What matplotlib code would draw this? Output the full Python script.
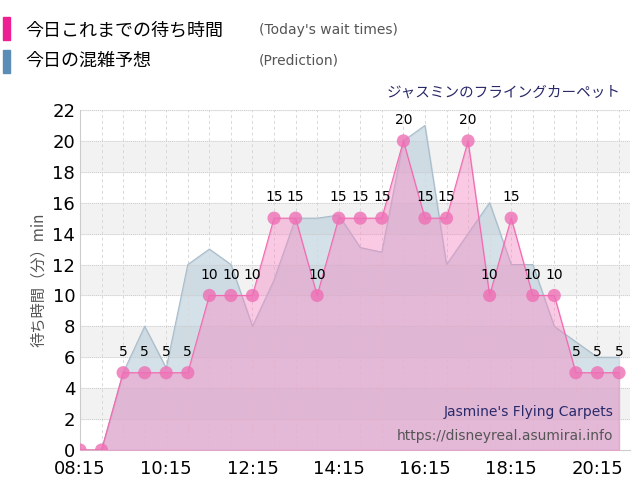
import matplotlib
matplotlib.use("Agg")
import matplotlib.pyplot as plt
import numpy as np

plt.rcParams["font.family"] = ["DejaVu Sans", "Noto Sans CJK JP"]

# 30分ごとの時刻
times = ["08:15", "08:45", "09:15", "09:45", "10:15", "10:45", "11:15", "11:45",
         "12:15", "12:45", "13:15", "13:45", "14:15", "14:45", "15:15", "15:45",
         "16:15", "16:45", "17:15", "17:45", "18:15", "18:45", "19:15", "19:45",
         "20:15", "20:45"]
wait = [0, 0, 5, 5, 5, 5, 10, 10, 10, 15, 15, 10, 15, 15, 15, 20,
        15, 15, 20, 10, 15, 10, 10, 5, 5, 5]
pred = [0, 0, 5, 8, 5.3, 12, 13, 12, 8, 11, 15, 15, 15.2, 13.1, 12.8, 20,
        21, 12, 14, 16, 12, 12, 8, 7, 6, 6]
tick_labels = ["08:15", "10:15", "12:15", "14:15", "16:15", "18:15", "20:15"]

x = np.arange(len(times))
fig = plt.figure(figsize=(6.4, 5.0), dpi=100)
ax = fig.add_axes([0.125, 0.1, 0.859, 0.68])

# 横縞
for k in range(0, 22, 4):
    ax.axhspan(k + 2, k + 4, color="#f2f2f2", zorder=0)

ax.fill_between(x, pred, color="#b9cdd9", alpha=0.6, zorder=1)
ax.plot(x, pred, color="#a9bccb", lw=0.8, zorder=2)
ax.fill_between(x, wait, color="#f58ac4", alpha=0.45, zorder=3)
ax.plot(x, wait, color="#f06ab0", lw=0.8, zorder=4)
ax.scatter(x, wait, s=90, color="#ee6fb5", alpha=0.8, zorder=5, edgecolors="none")
for xi, v in zip(x, wait):
    if v > 0:
        ax.text(xi, v + 0.9, str(v), ha="center", va="bottom", fontsize=10, zorder=6)

ax.set_xlim(0, 25.5)
ax.set_ylim(0, 22)
ax.set_yticks(range(0, 23, 2))
ax.set_xticks([times.index(t) for t in tick_labels])
ax.set_xticklabels(tick_labels)
ax.set_xticks(x, minor=True)
ax.tick_params(labelsize=13, length=0, which="both")
ax.tick_params(axis="x", pad=7)
ax.grid(True, which="both", axis="x", color="#d8d8d8", ls=(0, (3, 3)), lw=0.7)
ax.grid(True, axis="y", color="#cccccc", ls=(0, (1, 1)), lw=0.7)
for s in ["top", "right"]:
    ax.spines[s].set_visible(False)
ax.spines["left"].set_color("#cccccc")
ax.spines["bottom"].set_color("#cccccc")
ax.set_ylabel("待ち時間（分）min", fontsize=11, color="#555555",
              family=["Noto Sans CJK JP"])

# 凡例
fig.patches.append(plt.Rectangle((0.005, 0.92), 0.011, 0.045, color="#ee1f92",
                                 transform=fig.transFigure))
fig.patches.append(plt.Rectangle((0.005, 0.855), 0.011, 0.045, color="#5b8db7",
                                 transform=fig.transFigure))
cjk = ["Noto Sans CJK JP"]
fig.text(0.04, 0.94, "今日これまでの待ち時間", fontsize=13, va="center", family=cjk)
fig.text(0.405, 0.94, "(Today's wait times)", fontsize=10, color="#555555", va="center")
fig.text(0.04, 0.878, "今日の混雑予想", fontsize=13, va="center", family=cjk)
fig.text(0.405, 0.878, "(Prediction)", fontsize=10, color="#555555", va="center")
fig.text(0.97, 0.815, "ジャスミンのフライングカーペット", fontsize=10.5,
         color="#2a2a6a", ha="right", va="center", family=cjk)

ax.text(0.97, 0.1, "Jasmine's Flying Carpets", transform=ax.transAxes,
        ha="right", fontsize=10, color="#2a2a6a", zorder=7)
ax.text(0.97, 0.03, "https://disneyreal.asumirai.info", transform=ax.transAxes,
        ha="right", fontsize=10, color="#555555", zorder=7)

fig.savefig("out.png")
